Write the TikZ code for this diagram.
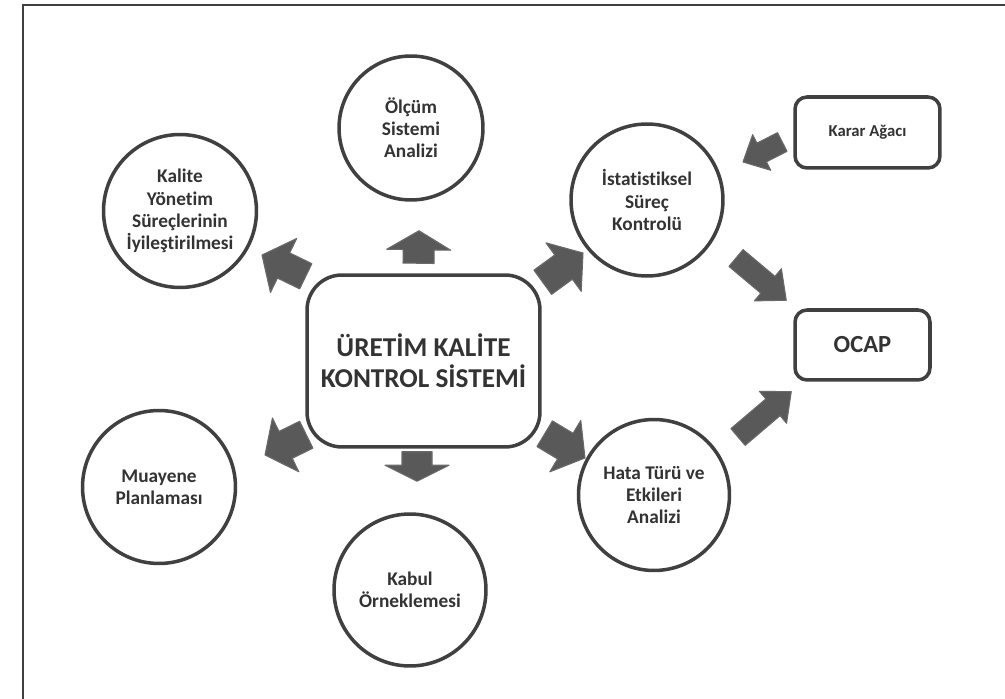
\documentclass[tikz,border=0pt]{standalone}
\usepackage{fontspec}
\setmainfont{Carlito}[Ligatures=NoCommon]
\usetikzlibrary{calc}
\definecolor{edge}{HTML}{404040}
\definecolor{arrowgray}{HTML}{595959}
\definecolor{arrowedge}{HTML}{6A6A6A}
\definecolor{txt}{HTML}{333333}
\tikzset{
  bubble/.style={circle, draw=edge, line width=2pt, fill=white, minimum size=3.0cm,
    align=center, font=\bfseries\fontsize{11}{12.6}\selectfont, text=txt, inner sep=0pt},
  mainbox/.style={rectangle, rounded corners=0.7cm, draw=edge, line width=2pt, fill=white,
    minimum width=4.66cm, minimum height=3.44cm, align=center,
    font=\bfseries\fontsize{15.5}{17.5}\selectfont, text=txt},
  sidebox/.style={rectangle, rounded corners=0.24cm, draw=edge, line width=2pt, fill=white,
    align=center, text=txt},
  blockfill/.style={fill=arrowgray, draw=arrowedge, line width=0.6pt, line join=round},
}
% #1 tail, #2 tip, #3 body half width, #4 head half width, #5 head length
\newcommand\blockarr[5]{%
  \coordinate (ba-h) at ($(#2)!#5!(#1)$);
  \filldraw[blockfill] ($(#1)!#3!90:(#2)$) -- ($(ba-h)!#3!-90:(#1)$)
    -- ($(ba-h)!#4!-90:(#1)$) -- (#2) -- ($(ba-h)!#4!90:(#1)$)
    -- ($(ba-h)!#3!90:(#1)$) -- ($(#1)!#3!-90:(#2)$) -- cycle;
}
\begin{document}
\begin{tikzpicture}[x=0.02cm,y=-0.02cm]
\useasboundingbox (0,0) rectangle (1005,699);
\draw[edge, line width=1.5pt] (23,699) -- (23,5) -- (1005,5);

\node[mainbox] (c) at (423.5,361) {ÜRETİM KALİTE\\KONTROL SİSTEMİ};
\node[bubble, minimum size=2.88cm] (osa) at (411,128) {Ölçüm\\Sistemi\\Analizi};
\node[bubble, minimum size=3.06cm] (kys) at (180,211) {Kalite\\Yönetim\\Süreçlerinin\\İyileştirilmesi};
\node[bubble, minimum size=3.04cm] (isk) at (647,200) {İstatistiksel\\Süreç\\Kontrolü};
\node[bubble, minimum size=3.06cm] (mp) at (159,487) {Muayene\\Planlaması};
\node[bubble, minimum size=3.04cm] (ko) at (410,590) {Kabul\\Örneklemesi};
\node[bubble, minimum size=3.02cm] (hta) at (654,495) {Hata Türü ve\\Etkileri\\Analizi};
\node[sidebox, minimum width=2.9cm, minimum height=1.42cm,
  font=\bfseries\fontsize{9.5}{11}\selectfont] (karar) at (867.5,132.5) {Karar Ağacı};
\node[sidebox, minimum width=2.7cm, minimum height=1.4cm,
  font=\bfseries\fontsize{14}{17}\selectfont] (ocap) at (862.5,345) {OCAP};

% arrow ends, placed relative to the nodes they join
\coordinate (a1) at ($(c.north)+(-5,-10)$);        \coordinate (a2) at ($(osa.south)+(8,29)$);
\coordinate (b1) at ($(c.north west)+(0.5,3)$);    \coordinate (b2) at ($(kys)+(82,44)$);
\coordinate (c1) at ($(c.north east)+(1,9)$);      \coordinate (c2) at ($(isk)+(-64,53)$);
\coordinate (d1) at ($(c.south west)+(1,-14)$);    \coordinate (d2) at ($(mp)+(106,-32)$);
\coordinate (e1) at ($(c.south)+(-6.5,3)$);        \coordinate (e2) at ($(ko.north)+(7,-31)$);
\coordinate (f1) at ($(c.south east)+(3,-15)$);    \coordinate (f2) at ($(hta)+(-69,-37)$);
\coordinate (g1) at ($(karar.west)+(-11,9.5)$);    \coordinate (g2) at ($(isk)+(96,-38)$);
\coordinate (h1) at ($(isk)+(89,58)$);             \coordinate (h2) at ($(ocap.north west)+(-7,-8)$);
\coordinate (i1) at ($(hta)+(84,-58)$);            \coordinate (i2) at ($(ocap.south west)+(-2,10)$);

\blockarr{a1}{a2}{0.31cm}{0.64cm}{0.38cm}
\blockarr{b1}{b2}{0.28cm}{0.6cm}{0.48cm}
\blockarr{c1}{c2}{0.3cm}{0.6cm}{0.48cm}
\blockarr{d1}{d2}{0.3cm}{0.6cm}{0.46cm}
\blockarr{e1}{e2}{0.3cm}{0.64cm}{0.32cm}
\blockarr{f1}{f2}{0.3cm}{0.6cm}{0.46cm}
\blockarr{g1}{g2}{0.21cm}{0.4cm}{0.42cm}
\blockarr{h1}{h2}{0.22cm}{0.42cm}{0.48cm}
\blockarr{i1}{i2}{0.22cm}{0.42cm}{0.48cm}
\end{tikzpicture}
\end{document}
